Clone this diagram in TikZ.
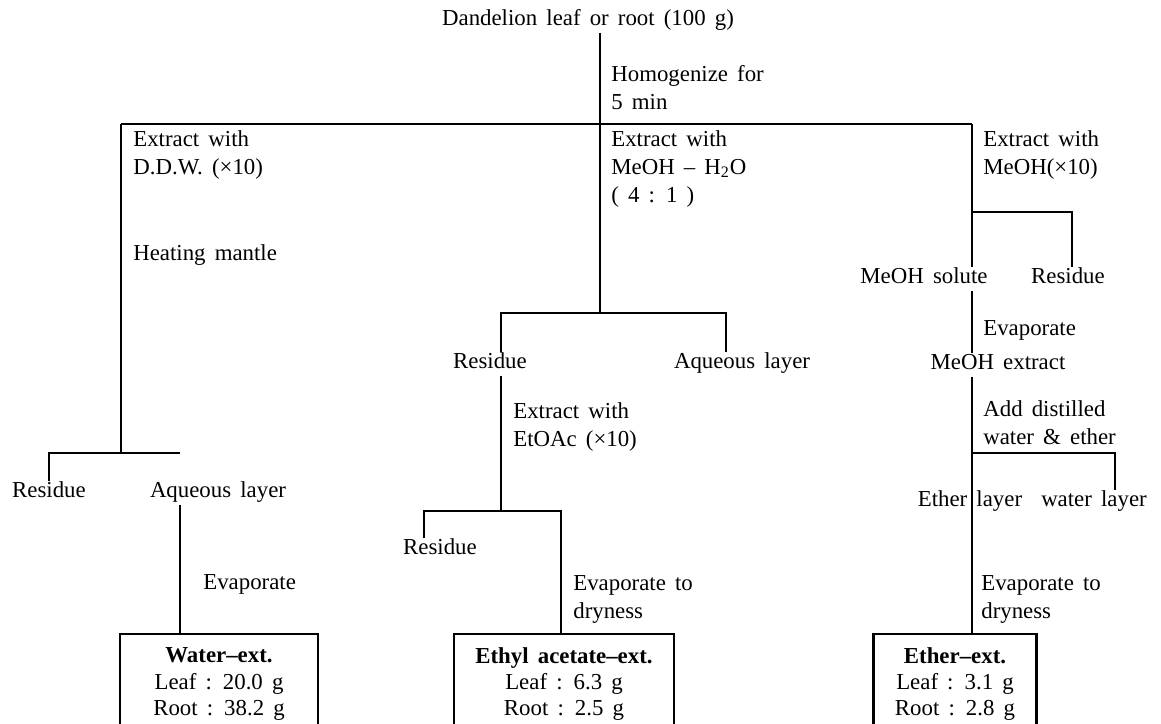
\documentclass[tikz,border=0pt]{standalone}
\usepackage{fontspec}
\setmainfont{Liberation Serif}[WordSpace=1.6]
\usepackage{tikz}
\usetikzlibrary{positioning,calc}
\tikzset{
  flowtext/.style={inner sep=2pt, font=\fontsize{13pt}{16pt}\selectfont},
  flownode/.style={flowtext, text height=1.5ex, text depth=0.4ex},
  flowlabel/.style={flowtext, anchor=north west, align=left, inner sep=0pt},
  flowresult/.style={flowtext, font=\fontsize{13pt}{15pt}\selectfont, draw=black, line width=1.2pt, align=center, anchor=north, minimum height=2cm},
  flowline/.style={line width=0.6pt}
}
\begin{document}
\begin{tikzpicture}[x=0.02cm, y=-0.02cm]
\useasboundingbox (0,0) rectangle (1161,724);
\clip (0,0) rectangle (1161,724);
\node[flownode] (src) at (588,21) {Dandelion leaf or root (100 g)};
\node[flowlabel] (homog) at (611,65) {Homogenize for\\5 min};
\coordinate (wcol) at (121,124);
\coordinate (mcol) at (600,124);
\coordinate (ecol) at (972,124);
\node[flowlabel] (ddw) at (133,130) {Extract with\\D.D.W. (×10)};
\node[flowlabel] (heat) at (133,244) {Heating mantle};
\coordinate (wsplit) at (121,453);
\coordinate (wsplitr) at (180,453);
\node[flownode] (wres) at (49,493) {Residue};
\node[flownode] (waq) at (218,493) {Aqueous layer};
\node[flowlabel] (wevap) at (203,574) {Evaporate};
\node[flowresult, minimum width=3.96cm] (wbox) at (219,633) {\textbf{Water--ext.}\\Leaf : 20.0 g\\Root : 38.2 g};
\node[flowlabel] (meoh) at (611,130) {Extract with\\MeOH -- H\textsubscript{2}O\\( 4 : 1 )};
\coordinate (msplit) at (600,313);
\coordinate (mresx) at (501,313);
\coordinate (maqx) at (726,313);
\node[flownode] (mres) at (490,364) {Residue};
\node[flownode] (maq) at (742,364) {Aqueous layer};
\node[flowlabel] (etoac) at (513,402) {Extract with\\EtOAc (×10)};
\coordinate (esplit) at (501,511);
\coordinate (eresx) at (424,511);
\coordinate (eboxx) at (561,511);
\node[flownode] (eres) at (440,550) {Residue};
\node[flowlabel] (eevap) at (573,575) {Evaporate to\\dryness};
\node[flowresult, minimum width=4.4cm] (ebox) at (564,633) {\textbf{Ethyl acetate--ext.}\\Leaf : 6.3 g\\Root : 2.5 g};
\node[flowlabel] (meohx) at (983,130) {Extract with\\MeOH(×10)};
\coordinate (rsplit) at (972,212);
\coordinate (rresx) at (1072,212);
\node[flownode] (msol) at (924,279) {MeOH solute};
\node[flownode] (rres) at (1068,279) {Residue};
\node[flowlabel] (revap) at (983,320) {Evaporate};
\node[flownode] (mext) at (998,365) {MeOH extract};
\node[flowlabel] (adddw) at (983,400) {Add distilled\\water \& ether};
\coordinate (xsplit) at (972,453);
\coordinate (wlx) at (1115,453);
\node[flownode] (ethl) at (970,502) {Ether layer};
\node[flownode] (watl) at (1094,502) {water layer};
\node[flowlabel] (xevap) at (981,575) {Evaporate to\\dryness};
\node[flowresult, minimum width=3.26cm] (xbox) at (955,633) {\textbf{Ether--ext.}\\Leaf : 3.1 g\\Root : 2.8 g};
\draw[flowline] (src.south -| mcol) -- (mcol);
\draw[flowline] (wcol) -- (ecol);
\draw[flowline] (wcol) -- (wsplit);
\draw[flowline] (wres.north) |- (wsplitr);
\draw[flowline] (waq.south -| wsplitr) -- (wbox.north -| wsplitr);
\draw[flowline] (mcol) -- (msplit);
\draw[flowline] (mres.north -| mresx) |- (maqx) -- (maq.north -| maqx);
\draw[flowline] (mres.south -| mresx) -- (esplit);
\draw[flowline] (eres.north -| eresx) |- (eboxx) -- (ebox.north -| eboxx);
\draw[flowline] (ecol) -- (msol.north -| ecol);
\draw[flowline] (rsplit) -| (rres.north -| rresx);
\draw[flowline] (msol.south -| ecol) -- (mext.north -| ecol);
\draw[flowline] (mext.south -| ecol) -- (xbox.north -| ecol);
\draw[flowline] (xsplit) -| (watl.north -| wlx);
\end{tikzpicture}
\end{document}
